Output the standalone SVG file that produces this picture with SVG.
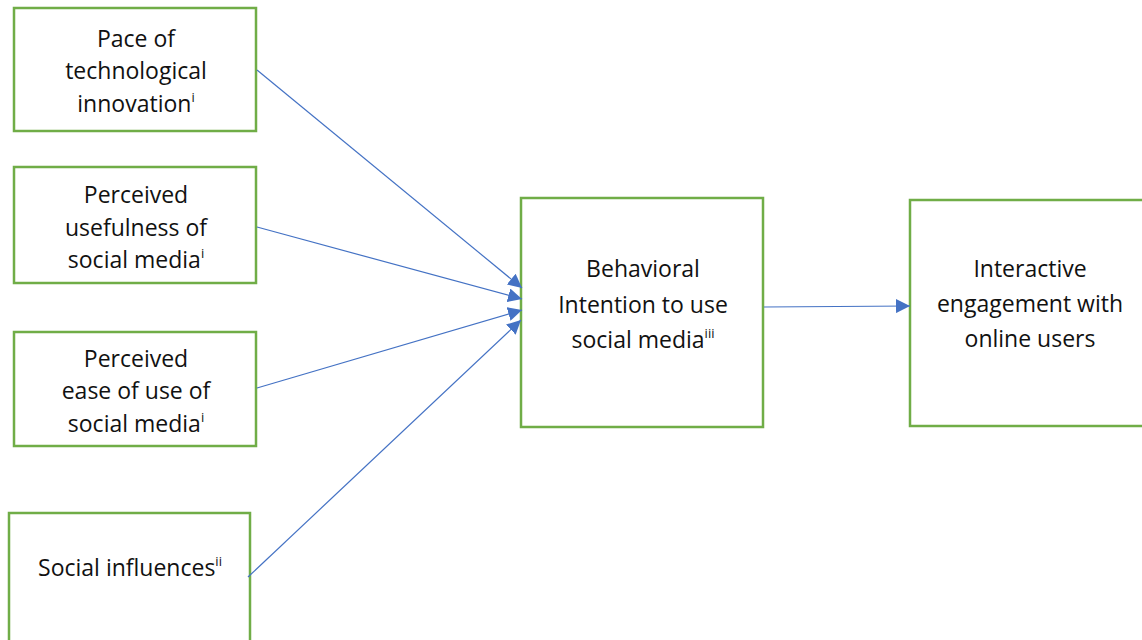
<svg xmlns="http://www.w3.org/2000/svg" width="1142" height="640" viewBox="0 0 1142 640">
<style>
.box{fill:#fff;stroke:#70AD47;stroke-width:2.5}
.t{font-family:"Open Sans","Liberation Sans",sans-serif;font-size:23px;fill:#111;text-anchor:middle}
.sup{font-size:13px}
.c{stroke:#4472C4;stroke-width:1.2;fill:none;marker-end:url(#ah)}
</style>
<defs>
<marker id="ah" viewBox="0 0 14 14" refX="14" refY="7" markerWidth="14" markerHeight="14" markerUnits="userSpaceOnUse" orient="auto">
<path d="M0,0 L14,7 L0,14 Z" fill="#4472C4"/>
</marker>
</defs>
<rect width="1142" height="640" fill="#fff"/>
<g id="n1"><rect class="box" x="14" y="8" width="242" height="123"/>
<text class="t" x="136" y="47">Pace of</text>
<text class="t" x="136" y="79">technological</text>
<text class="t" x="136" y="112">innovation<tspan class="sup" dy="-10">i</tspan></text></g>
<g id="n2"><rect class="box" x="14" y="167" width="242" height="116"/>
<text class="t" x="136" y="203">Perceived</text>
<text class="t" x="136" y="236">usefulness of</text>
<text class="t" x="136" y="268">social media<tspan class="sup" dy="-10">i</tspan></text></g>
<g id="n3"><rect class="box" x="14" y="332" width="242" height="114"/>
<text class="t" x="136" y="367">Perceived</text>
<text class="t" x="136" y="399">ease of use of</text>
<text class="t" x="136" y="432">social media<tspan class="sup" dy="-10">i</tspan></text></g>
<g id="n4"><rect class="box" x="9" y="513" width="241" height="140"/>
<text class="t" x="130" y="576">Social influences<tspan class="sup" dy="-10">ii</tspan></text></g>
<g id="n5"><rect class="box" x="521" y="198" width="242" height="229"/>
<text class="t" x="643" y="277">Behavioral</text>
<text class="t" x="643" y="313">Intention to use</text>
<text class="t" x="643" y="348">social media<tspan class="sup" dy="-10">iii</tspan></text></g>
<g id="n6"><rect class="box" x="910" y="200" width="240" height="226"/>
<text class="t" x="1030" y="277">Interactive</text>
<text class="t" x="1030" y="312">engagement with</text>
<text class="t" x="1030" y="347">online users</text></g>
<g id="connectors">
<path class="c" d="M257,70 L522,288"/>
<path class="c" d="M257,227 L522,299"/>
<path class="c" d="M257,388 L522,310"/>
<path class="c" d="M248,577 L521,320"/>
<path class="c" d="M764,307 L910,306"/>
</g>
</svg>
